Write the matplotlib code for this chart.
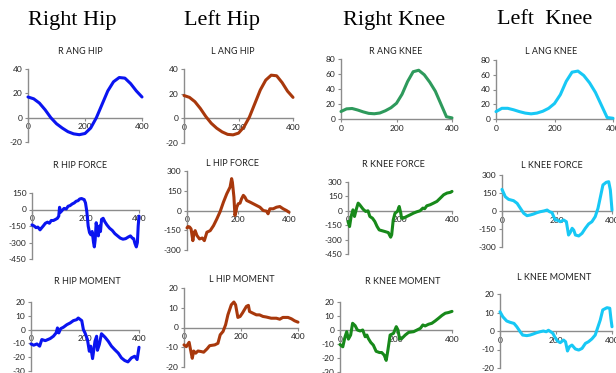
import matplotlib
matplotlib.use("Agg")
import matplotlib.pyplot as plt

plt.rcParams['font.family'] = ['Lato', 'DejaVu Sans']
plt.rcParams['axes.unicode_minus'] = False

# --- joint angles (deg), sampled every 20 frames ---
ang_x = [0, 20, 40, 60, 80, 100, 120, 140, 160, 180, 200,
         220, 240, 260, 280, 300, 320, 340, 360, 380, 400]
r_ang_hip = [17, 15.5, 12, 6.5, 0, -5, -8.5, -11.5, -13.3, -14, -13,
             -8.5, 0, 11, 22, 29.5, 33, 32.5, 28, 22, 17]
l_ang_hip = [18.5, 17, 13.5, 8, 1.5, -4, -8, -11, -13, -13.4, -12,
             -7, 1, 12, 23, 31, 35, 34.5, 29, 22, 17]
r_ang_knee = [10, 13.5, 14, 12, 9.5, 7.5, 7, 8, 11, 15, 21,
              33, 50, 63, 65, 59, 49, 37, 20, 3, 1.5]
l_ang_knee = [10, 14.5, 14.5, 12.5, 10, 8, 7, 8, 10.5, 14.5, 21,
              33, 51, 63.5, 65, 59, 49, 36, 19, 2, 1]

# --- hip / knee forces (N) ---
r_hip_force_x = [0, 8, 15, 22, 30, 35, 42, 50, 58, 65, 72, 80, 88, 95, 100, 103,
                 107, 112, 120, 128, 135, 142, 150, 158, 165, 172, 178, 185, 190,
                 195, 200, 205, 210, 215, 220, 225, 230, 233, 236, 240, 244, 248,
                 252, 256, 260, 266, 272, 280, 290, 300, 310, 320, 330, 340, 350,
                 360, 368, 375, 380, 385, 390, 394, 397, 400]
r_hip_force = [-140, -150, -165, -160, -185, -170, -150, -125, -115, -125, -100, -100,
               -90, -80, -60, 20, -25, -10, 10, 5, 30, 35, 50, 60, 75, 80, 95, 100,
               95, 90, 60, -20, -150, -210, -230, -200, -300, -340, -280, -120, -200,
               -240, -150, -200, -90, -80, -110, -140, -170, -190, -220, -240, -260,
               -270, -265, -250, -240, -260, -265, -310, -340, -300, -150, -60]

l_hip_force_x = [0, 4, 10, 16, 23, 27, 32, 39, 49, 60, 68, 78, 91, 104, 117, 130,
                 143, 156, 169, 175, 178, 184, 188, 192, 195, 201, 208, 214, 221,
                 227, 234, 247, 260, 273, 286, 299, 312, 318, 325, 338, 351, 364,
                 377, 390, 400]
l_hip_force = [-132, -122, -125, -140, -229, -175, -153, -190, -216, -209, -229,
               -165, -153, -115, -64, -8, 64, 127, 178, 242, 215, 102, -38, -10,
               25, 51, 56, 89, 115, 102, 76, 64, 51, 38, 25, 0, -5, -25, 13, 13,
               25, 30, 13, 0, -13]

r_knee_force_x = [0, 6, 12, 19, 25, 32, 39, 45, 58, 68, 77, 84, 94, 103, 112, 120,
                  129, 142, 155, 164, 168, 174, 181, 190, 197, 203, 206, 213, 226,
                  239, 252, 265, 277, 288, 295, 303, 316, 329, 342, 355, 368, 381,
                  394, 400]
r_knee_force = [-111, -164, -59, 10, -59, 17, 80, 63, 17, -7, 0, -59, -77, -111,
                -164, -199, -206, -216, -227, -275, -250, -94, -24, -7, 45, -24,
                -77, -77, -59, -42, -24, -10, 0, 28, 22, 52, 63, 80, 98, 132, 167,
                185, 192, 202]

l_knee_force_x = [0, 12, 24, 42, 55, 67, 79, 91, 103, 115, 127, 139, 152, 164, 173,
                  182, 188, 194, 200, 212, 224, 234, 242, 248, 255, 261, 267, 279,
                  291, 303, 315, 327, 339, 349, 358, 367, 379, 388, 394, 400]
l_knee_force = [180, 119, 97, 86, 64, 22, -19, -39, -33, -25, -14, -6, 0, 8, -6,
                -14, -47, -75, -75, -89, -75, -89, -200, -180, -144, -160, -200,
                -208, -186, -144, -108, -89, -47, 22, 119, 217, 239, 244, 175, 8]

# --- hip / knee moments (Nm) ---
r_hip_mom_x = [0, 10, 22, 32, 40, 53, 71, 83, 93, 98, 103, 110, 120, 133, 145, 157,
               169, 175, 188, 194, 200, 209, 216, 221, 228, 237, 243, 246, 253, 261,
               274, 286, 298, 310, 323, 335, 347, 359, 372, 384, 393, 400]
r_hip_mom = [-10.4, -11.3, -10.4, -12, -7.2, -8, -6.5, -4.8, -2.4, 1.2, -2.4, 0.7,
             1.7, 3.6, 4.8, 6.5, 7.2, 8.4, 6.5, 0, -2.4, -7.2, -15.7, -12, -21,
             -8.4, -4.8, -15, -10.8, -3, -5.5, -8.4, -12, -14.5, -17, -20.5, -22.4,
             -23.4, -20.5, -19.3, -21.7, -12.8]

l_hip_mom_x = [0, 8, 18, 22, 29, 34, 41, 49, 61, 69, 81, 90, 108, 119, 127, 137,
               146, 154, 166, 175, 181, 189, 197, 205, 219, 226, 230, 241, 254, 265,
               277, 289, 306, 324, 336, 347, 365, 377, 388, 400]
l_hip_mom = [-8.8, -9.7, -7.5, -10.5, -15.6, -11.9, -13, -11.9, -12.2, -12.5, -10.8,
             -9.2, -8.8, -8, -3.7, -2, 1.4, 6.4, 11.5, 12.9, 11.5, 5.1, 5.6, 7.3,
             10.7, 11.2, 8.1, 7.3, 6.4, 6.4, 5.6, 5.3, 4.7, 4.7, 4.2, 5.1, 5.1, 4.4,
             3.4, 2.7]

r_knee_mom_x = [0, 10, 18, 24, 30, 38, 45, 54, 62, 72, 81, 90, 96, 101, 110, 119,
                129, 141, 149, 158, 165, 171, 179, 191, 201, 207, 213, 221, 233, 245,
                263, 275, 287, 296, 304, 316, 328, 340, 352, 364, 376, 388, 400]
r_knee_mom = [-10.4, -12, -4.8, -1.2, -6.5, -3.6, 4.8, 3.1, 0, -0.7, 0, -4.8, -3.6,
              -6, -8.9, -10.8, -15.2, -16.1, -16.1, -18, -21.7, -14.5, -3.6, -2.4,
              2.4, 0, -6.5, -6, -3.6, -1.7, -1.2, 0, 1.2, 3.6, 2.9, 4.1, 4.8, 6.5,
              8.4, 10.4, 12, 12.5, 13.3]

l_knee_mom_x = [0, 10, 24, 36, 50, 60, 72, 81, 96, 107, 119, 131, 143, 155, 165,
                173, 181, 189, 197, 205, 215, 227, 234, 241, 248, 257, 269, 281, 293,
                305, 316, 328, 340, 350, 358, 367, 382, 392, 396, 400]
l_knee_mom = [10.4, 7.7, 5.4, 4.7, 4.1, 2.3, -0.4, -2.2, -2.5, -2.2, -1.6, -0.9,
              -0.4, 0, -0.4, 0.4, -0.4, -1.3, -3.6, -5.4, -6.3, -4.9, -5.8, -10.8,
              -8.5, -7.6, -9.7, -10.3, -9.4, -6.7, -5.8, -4.3, -2.2, 2.3, 5.9, 11.4,
              12.6, 12.3, 6.8, 2.3]

headers = ["Right Hip", "Left Hip", "Right Knee", "Left  Knee"]

BLUE = "#0a14f0"
RUST = "#a8380c"
SEA = "#2e9a5c"
GREEN = "#17891a"
CYAN = "#17c8f5"
AXIS_GREY = "#8c8c8c"

W, H = 616, 373
fig = plt.figure(figsize=(W / 100, H / 100), dpi=100)

# (title, x, y, colour, ylim, yticks, plot area in px: x0, x1, ytop, ybot, title pos px)
panels = [
    ("R ANG HIP", ang_x, r_ang_hip, BLUE, (-20, 40), range(-20, 41, 20), (28, 142, 69, 142), (80, 51)),
    ("L ANG HIP", ang_x, l_ang_hip, RUST, (-20, 40), range(-20, 41, 20), (184, 293, 69, 143), (233, 51)),
    ("R ANG KNEE", ang_x, r_ang_knee, SEA, (0, 80), range(0, 81, 20), (341, 452, 59, 119), (396, 51)),
    ("L ANG KNEE", ang_x, l_ang_knee, CYAN, (0, 80), range(0, 81, 20), (496, 613, 60, 119), (551, 51)),
    ("R HIP FORCE", r_hip_force_x, r_hip_force, BLUE, (-450, 150), range(-450, 151, 150), (32, 139, 193, 259), (80, 165)),
    ("L HIP FORCE", l_hip_force_x, l_hip_force, RUST, (-300, 300), range(-300, 301, 150), (187, 289, 171, 250), (233, 163)),
    ("R KNEE FORCE", r_knee_force_x, r_knee_force, GREEN, (-450, 300), range(-450, 301, 150), (348, 452, 182, 254), (393, 164)),
    ("L KNEE FORCE", l_knee_force_x, l_knee_force, CYAN, (-300, 300), range(-300, 301, 150), (502, 612, 175, 247), (552, 165)),
    ("R HIP MOMENT", r_hip_mom_x, r_hip_mom, BLUE, (-30, 20), range(-30, 21, 10), (31, 139, 302, 371), (87, 282)),
    ("L HIP MOMENT", l_hip_mom_x, l_hip_mom, RUST, (-20, 20), range(-20, 21, 10), (184, 298, 288, 367), (242, 280)),
    ("R KNEE MOMENT", r_knee_mom_x, r_knee_mom, GREEN, (-30, 20), range(-30, 21, 10), (340, 452, 302, 372), (403, 282)),
    ("L KNEE MOMENT", l_knee_mom_x, l_knee_mom, CYAN, (-20, 20), range(-20, 21, 10), (500, 612, 294, 368), (554, 278)),
]

for title, xs, ys, col, ylim, yticks, (x0, x1, yt, yb), (tx, ty) in panels:
    ax = fig.add_axes([x0 / W, 1 - yb / H, (x1 - x0) / W, (yb - yt) / H])
    ax.plot(xs, ys, color=col, lw=2.2, clip_on=False, zorder=3,
            solid_joinstyle='round', solid_capstyle='round')
    ax.set_xlim(0, 400)
    ax.set_ylim(*ylim)
    ax.set_xticks([0, 200, 400])
    ax.set_yticks(list(yticks))
    ax.patch.set_alpha(0)
    for s in ("top", "right"):
        ax.spines[s].set_visible(False)
    ax.spines["bottom"].set_position(("data", 0))
    for s in ("left", "bottom"):
        ax.spines[s].set_color(AXIS_GREY)
        ax.spines[s].set_linewidth(1.0)
    ax.tick_params(axis="both", colors=AXIS_GREY, labelcolor="#222222",
                   labelsize=6, length=2.5, width=0.8, pad=1.5)
    fig.text(tx / W, 1 - ty / H, title, ha="center", va="center",
             fontsize=6.5, color="#222222")

header_x = [72, 222, 394, 545]
for hx, txt in zip(header_x, headers):
    fig.text(hx / W, 1 - 20 / H, txt, ha="center", va="center",
             fontsize=16, family="Liberation Serif", color="black")

fig.savefig("out.png", dpi=100)
